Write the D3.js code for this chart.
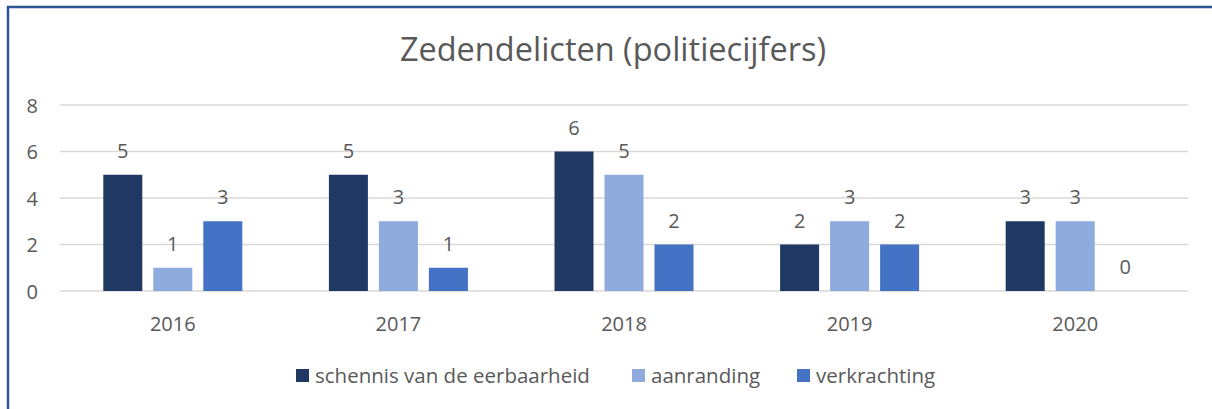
<!DOCTYPE html>
<html>
<head>
<meta charset="utf-8">
<script src="https://cdn.jsdelivr.net/npm/d3@7"></script>
<style>
  html, body { margin: 0; padding: 0; background: #fff; }
  text { font-family: "Open Sans", "Liberation Sans", sans-serif; fill: #595959; }
</style>
</head>
<body>
<svg id="chart" width="1212" height="409"></svg>
<script>
// chart data
const years = ["2016", "2017", "2018", "2019", "2020"];
const seriesNames = ["schennis van de eerbaarheid", "aanranding", "verkrachting"];
const schennis = [5, 5, 6, 2, 3];
const aanranding = [1, 3, 5, 3, 3];
const verkrachting = [3, 1, 2, 2, 0];
const yTicks = [0, 2, 4, 6, 8];
const colors = ["#203864", "#8FAADC", "#4472C4"];

let rows = years.map(function(y, i) {
	return { year: y, values: [schennis[i], aanranding[i], verkrachting[i]] };
});

let svg = d3.select("#chart");
let plot = { left: 60, right: 1188, top: 105, bottom: 291 };

// frame (only top + left visible in the crop)
svg.append("path")
	.attr("d", "M8,409 L8,7 L1212,7")
	.attr("fill", "none")
	.attr("stroke", "#2F5597")
	.attr("stroke-width", 2.5);

svg.append("text")
	.attr("x", 613).attr("y", 61)
	.attr("text-anchor", "middle")
	.style("font-size", "32.5px")
	.text("Zedendelicten (politiecijfers)");

let x = d3.scaleBand().domain(years).range([plot.left, plot.right]);
let xs = d3.scaleBand().domain([0, 1, 2]).range([0, x.bandwidth()]).paddingInner(0.22).paddingOuter(0.866);
let y = d3.scaleLinear().domain([0, 8]).range([plot.bottom, plot.top]);

// gridlines
svg.append("g").selectAll("line").data(yTicks).enter().append("line")
	.attr("x1", plot.left).attr("x2", plot.right)
	.attr("y1", function(d) { return y(d); })
	.attr("y2", function(d) { return y(d); })
	.attr("stroke", "#D9D9D9")
	.attr("stroke-width", 1.5);

// y axis labels
let yAxis = svg.append("g").attr("transform", "translate(" + (plot.left - 22) + ",0)")
	.call(d3.axisLeft(y).tickValues(yTicks).tickSize(0).tickPadding(0));
yAxis.select(".domain").remove();
yAxis.selectAll("text").style("font-size", "20px").attr("fill", "#595959").attr("dy", "0.35em");

// x axis labels
let xAxis = svg.append("g").attr("transform", "translate(0," + plot.bottom + ")")
	.call(d3.axisBottom(x).tickSize(0).tickPadding(0));
xAxis.select(".domain").remove();
xAxis.selectAll("text").style("font-size", "20px").attr("fill", "#595959").attr("dy", null).attr("y", 40);

// bars
let groups = svg.append("g").selectAll("g").data(rows).enter().append("g")
	.attr("transform", function(d) { return "translate(" + x(d.year) + ",0)"; });

groups.selectAll("rect").data(function(d) { return d.values; }).enter().append("rect")
	.attr("x", function(d, i) { return xs(i); })
	.attr("width", xs.bandwidth())
	.attr("y", function(d) { return y(d); })
	.attr("height", function(d) { return plot.bottom - y(d); })
	.attr("fill", function(d, i) { return colors[i]; });

groups.selectAll("text.val").data(function(d) { return d.values; }).enter().append("text")
	.attr("class", "val")
	.attr("x", function(d, i) { return xs(i) + xs.bandwidth() / 2; })
	.attr("y", function(d) { return y(d) - 17; })
	.attr("text-anchor", "middle")
	.style("font-size", "20px")
	.attr("fill", "#404040")
	.text(function(d) { return d; });

// legend
let legendX = [296, 632, 797];
let legend = svg.append("g").selectAll("g").data(seriesNames).enter().append("g")
	.attr("transform", function(d, i) { return "translate(" + legendX[i] + ",369)"; });
legend.append("rect").attr("width", 13).attr("height", 13)
	.attr("fill", function(d, i) { return colors[i]; });
legend.append("text").attr("x", 19).attr("y", 14)
	.style("font-size", "20.5px")
	.text(function(d) { return d; });
</script>
</body>
</html>
